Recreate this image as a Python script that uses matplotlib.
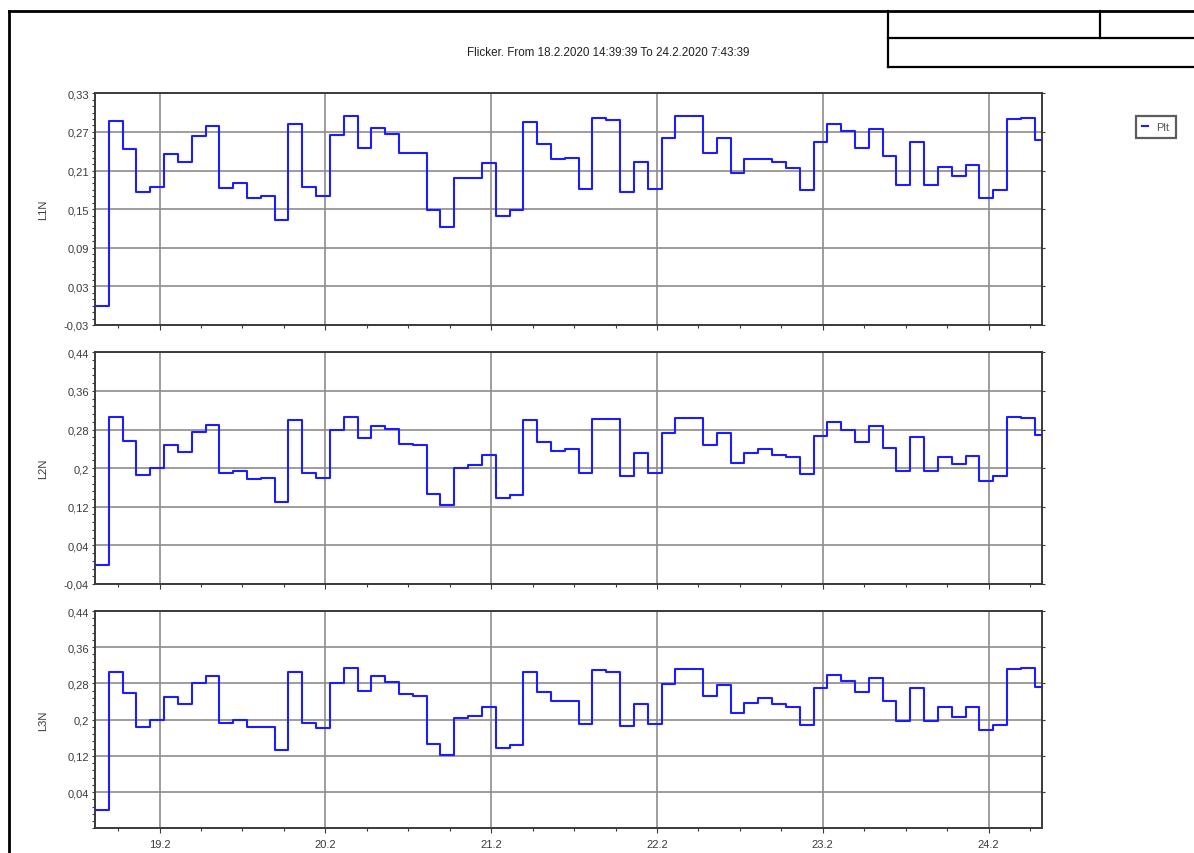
import numpy as np
import pandas as pd
import matplotlib
matplotlib.use("Agg")
import matplotlib.pyplot as plt
import matplotlib.dates as mdates
from matplotlib.ticker import FixedLocator, FuncFormatter
from matplotlib.lines import Line2D

plt.rcParams["font.family"] = ["Liberation Sans", "DejaVu Sans"]

# ===============================
# DATA (Plt, 2h intervals)
# ===============================

t_start = pd.Timestamp("2020-02-18 14:39:39")
t_end = pd.Timestamp("2020-02-24 07:43:39")

l1n = [0.0, 0.287, 0.243, 0.176, 0.185, 0.236, 0.223, 0.263, 0.279, 0.183,
       0.190, 0.168, 0.171, 0.133, 0.283, 0.185, 0.170, 0.265, 0.294, 0.245,
       0.276, 0.266, 0.238, 0.237, 0.148, 0.123, 0.198, 0.198, 0.221, 0.139,
       0.148, 0.285, 0.251, 0.228, 0.230, 0.181, 0.291, 0.289, 0.176, 0.223,
       0.182, 0.261, 0.294, 0.294, 0.237, 0.261, 0.206, 0.228, 0.228, 0.223,
       0.214, 0.179, 0.255, 0.282, 0.272, 0.245, 0.274, 0.232, 0.187, 0.254,
       0.187, 0.215, 0.201, 0.218, 0.168, 0.179, 0.290, 0.292, 0.257]

l2n = [0.0, 0.305, 0.256, 0.186, 0.200, 0.247, 0.234, 0.275, 0.290, 0.190,
       0.194, 0.178, 0.180, 0.129, 0.300, 0.190, 0.180, 0.279, 0.307, 0.262,
       0.288, 0.281, 0.250, 0.247, 0.147, 0.123, 0.201, 0.206, 0.228, 0.138,
       0.145, 0.300, 0.255, 0.235, 0.240, 0.190, 0.301, 0.301, 0.184, 0.232,
       0.189, 0.272, 0.303, 0.303, 0.247, 0.272, 0.211, 0.232, 0.240, 0.228,
       0.224, 0.187, 0.267, 0.296, 0.280, 0.255, 0.287, 0.241, 0.194, 0.265,
       0.194, 0.224, 0.209, 0.226, 0.174, 0.184, 0.307, 0.304, 0.269]

l3n = [0.0, 0.305, 0.258, 0.183, 0.199, 0.249, 0.235, 0.281, 0.296, 0.193,
       0.199, 0.183, 0.183, 0.134, 0.305, 0.193, 0.181, 0.281, 0.313, 0.264,
       0.297, 0.284, 0.257, 0.253, 0.146, 0.122, 0.204, 0.207, 0.227, 0.138,
       0.143, 0.306, 0.262, 0.241, 0.241, 0.190, 0.310, 0.305, 0.186, 0.235,
       0.190, 0.279, 0.311, 0.311, 0.253, 0.277, 0.214, 0.237, 0.247, 0.235,
       0.229, 0.188, 0.271, 0.299, 0.285, 0.260, 0.293, 0.242, 0.196, 0.269,
       0.197, 0.227, 0.206, 0.229, 0.177, 0.188, 0.311, 0.313, 0.272]

names = ["L1N", "L2N", "L3N"]
series = [l1n, l2n, l3n]

ticks_l1 = [-0.03, 0.03, 0.09, 0.15, 0.21, 0.27, 0.33]
ticks_l23 = [-0.04, 0.04, 0.12, 0.2, 0.28, 0.36, 0.44]

# ===============================
# FIGURE
# ===============================

W, H = 1194, 854
fig = plt.figure(figsize=(W / 100, H / 100), dpi=100)


def fx(px):
    return px / W


def fy(py):
    return 1 - py / H


# axes boxes in pixels: left, top, right, bottom
boxes = [(95, 94.3, 1042, 326), (95, 353.3, 1042, 585), (95, 612, 1042, 829.3)]

grid_c = "#8c8c8c"
spine_c = "#3a3a3a"
text_c = "#3a3a3a"
line_c = "#1c1cff"


def fmt_y(v, pos):
    s = f"{v:.2f}".rstrip("0").rstrip(".")
    return s.replace(".", ",")


def fmt_x(v, pos):
    d = mdates.num2date(v)
    return f"{d.day}.{d.month}"


starts = pd.date_range(t_start, periods=len(l1n), freq="2h")
axes = []
for i, (name, vals) in enumerate(zip(names, series)):
    l, t, r, b = boxes[i]
    ax = fig.add_axes([fx(l), fy(b), fx(r) - fx(l), fy(t) - fy(b)])
    axes.append(ax)

    x = list(starts) + [t_end]
    y = list(vals) + [vals[-1]]
    line, = ax.step(x, y, where="post", color=line_c, lw=1.5, label="Plt", zorder=3)

    ax.set_xlim(t_start, t_end)
    if i == 0:
        ax.set_ylim(-0.03, 0.33)
        ax.yaxis.set_major_locator(FixedLocator(ticks_l1))
        ax.yaxis.set_minor_locator(FixedLocator(np.arange(-0.03, 0.331, 0.01)))
    else:
        ax.set_ylim(-0.04, 0.44)
        tk = ticks_l23 if i == 1 else ticks_l23[1:]
        ax.yaxis.set_major_locator(FixedLocator(tk))
        ax.yaxis.set_minor_locator(FixedLocator(np.arange(-0.04, 0.441, 0.016)))
    ax.yaxis.set_major_formatter(FuncFormatter(fmt_y))

    ax.xaxis.set_major_locator(mdates.DayLocator())
    ax.xaxis.set_minor_locator(mdates.HourLocator(byhour=[6, 12, 18]))
    ax.xaxis.set_major_formatter(FuncFormatter(fmt_x))
    if i < 2:
        ax.tick_params(axis="x", labelbottom=False)

    ax.grid(True, which="major", color=grid_c, lw=1.2)
    ax.tick_params(which="both", direction="out", colors=spine_c, labelcolor=text_c,
                   labelsize=8, width=0.8)
    ax.tick_params(which="major", length=3.5)
    ax.tick_params(which="minor", length=2.5)
    ax.tick_params(axis="y", which="major", right=True, length=2.5)
    ax.tick_params(axis="x", which="major", pad=4)
    ax.tick_params(axis="y", which="major", pad=2)

    for s in ax.spines.values():
        s.set_color(spine_c)
        s.set_linewidth(1.4)

    ax.set_ylabel(name, fontsize=8, color=text_c)
    ax.yaxis.set_label_coords(-0.05, 0.5)

# title
fig.text(fx(608), fy(53), "Flicker. From 18.2.2020 14:39:39 To 24.2.2020 7:43:39",
         ha="center", va="center", fontsize=8.4, color="#222222")

# legend
leg = fig.legend(handles=[line], labels=["Plt"], loc="upper left",
                 bbox_to_anchor=(fx(1136), fy(117)), bbox_transform=fig.transFigure,
                 fontsize=8, handlelength=0.5, handletextpad=0.8, borderpad=0.55,
                 borderaxespad=0, fancybox=False, frameon=True)
leg.get_frame().set_edgecolor("#333333")
leg.get_frame().set_linewidth(1.6)
for txt in leg.get_texts():
    txt.set_color("#555555")

# ===============================
# PAGE FRAME / HEADER BOX
# ===============================

frame_lines = [
    ((8.5, 8.5), (12, 854), 2.0),
    ((8.5, 1194), (12, 12), 2.0),
    ((888, 888), (12, 67.5), 1.6),
    ((888, 1194), (39, 39), 1.6),
    ((888, 1194), (67.5, 67.5), 1.6),
    ((1099.5, 1099.5), (12, 39), 1.6),
]
for xs, ys, lw in frame_lines:
    fig.add_artist(Line2D([fx(v) for v in xs], [fy(v) for v in ys],
                          transform=fig.transFigure, color="black", lw=lw))

fig.savefig("out.png", dpi=100, facecolor="white")
